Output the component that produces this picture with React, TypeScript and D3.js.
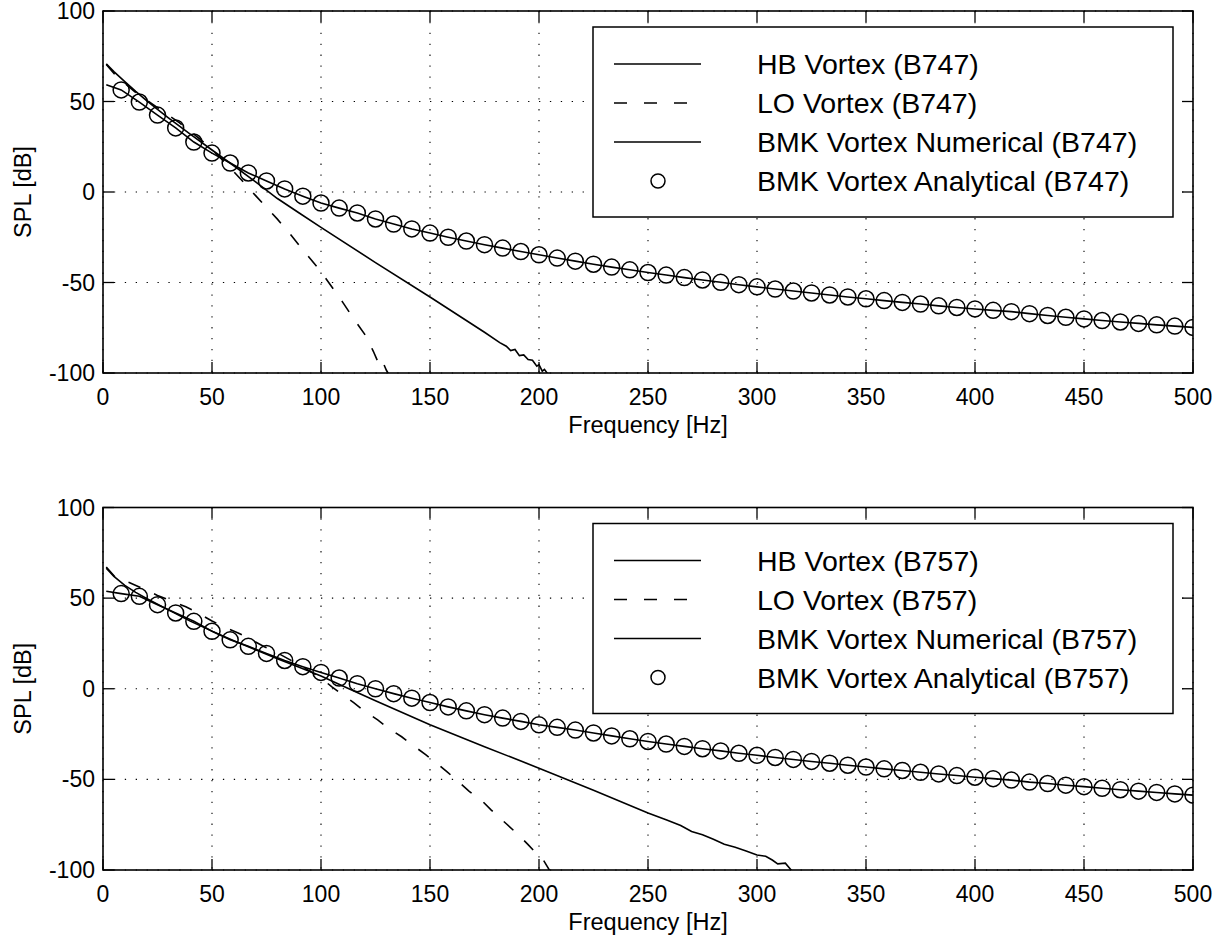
import React from 'react'
import * as d3 from 'd3'

type Pt = [number, number]

const W = 1226
const H = 940
const FONT = '"Liberation Sans", Arial, Helvetica, sans-serif'

const xTicks = [0, 50, 100, 150, 200, 250, 300, 350, 400, 450, 500]
const yTicks = [-100, -50, 0, 50, 100]

// analytical markers sit on an even grid, 60 points up to 500 Hz
const markerFreq = d3.range(1, 61).map(k => (k * 500) / 60)

const legend747 = ['HB Vortex (B747)', 'LO Vortex (B747)', 'BMK Vortex Numerical (B747)', 'BMK Vortex Analytical (B747)']
const legend757 = ['HB Vortex (B757)', 'LO Vortex (B757)', 'BMK Vortex Numerical (B757)', 'BMK Vortex Analytical (B757)']

const analytic747 = [
  56.4, 49.7, 42.5, 35.4, 27.6, 21.5, 16.0, 10.5, 6.1, 1.7,
  -2.3, -6.1, -8.9, -11.6, -14.9, -17.7, -20.4, -22.7, -25.0, -27.1,
  -29.1, -31.0, -32.9, -34.7, -36.5, -38.2, -39.9, -41.5, -43.0, -44.5,
  -45.9, -47.3, -48.6, -49.9, -51.2, -52.4, -53.6, -54.7, -55.8, -56.9,
  -58.0, -59.0, -60.0, -61.0, -61.9, -62.9, -63.8, -64.6, -65.4, -66.1,
  -67.2, -68.2, -69.2, -70.1, -71.0, -71.8, -72.6, -73.4, -74.1, -74.8,
]

const analytic757 = [
  52.5, 51.0, 46.4, 41.8, 37.2, 31.7, 27.0, 23.4, 19.5, 15.6,
  12.2, 9.0, 5.9, 2.8, 0.0, -2.7, -5.2, -7.6, -10.0, -12.2,
  -14.3, -16.2, -18.0, -19.9, -21.3, -22.8, -24.4, -26.0, -27.6, -29.1,
  -30.5, -31.8, -33.1, -34.3, -35.6, -36.7, -37.9, -39.0, -40.1, -41.1,
  -42.2, -43.2, -44.2, -45.1, -46.1, -47.0, -47.9, -48.8, -49.6, -50.4,
  -51.5, -52.3, -53.2, -54.0, -54.9, -55.7, -56.5, -57.2, -58.0, -58.7,
]

// numerical BMK curve: starting value near 0 Hz, then it runs on the analytical markers
const bmkStart747: Pt = [1.5, 59.3]
const bmkStart757: Pt = [1.5, 53.8]

const hb747: Pt[] = [
  [1.5, 70.8], [5, 66.5], [10, 61], [15, 55.6], [20, 50.5], [25, 45.6], [30, 41], [40, 32],
  [50, 23.2], [60, 14.5], [70, 5.6], [80, -3.6], [90, -11.6], [100, -19.5], [125, -39],
  [150, -58], [175, -77.5], [182, -83.2], [185, -85.2], [187, -87.6], [189, -87], [191, -90.4],
  [193, -90], [195, -92.6], [197, -93], [199, -96.2], [200, -95.4], [201.5, -99], [202.5, -98], [204, -100.5],
]

const lo747: Pt[] = [
  [1.5, 70.5], [5.5, 64.8], [11, 59], [15.5, 54.5], [20, 50.8], [25, 46.6], [30, 42.5], [35, 38.3],
  [40, 33.5], [45, 28.7], [50, 23.5], [55, 17.5], [60, 11.2], [65, 4.7], [70, -2], [75, -8.5],
  [80, -15], [85, -22], [90, -29.5], [95, -36.8], [100, -44], [105, -52.5], [110, -61], [115, -70],
  [120, -78.5], [122, -83], [124, -88], [126, -93.5], [127.3, -95.8], [128.2, -93.5], [130, -98.5], [131, -100.5],
]

const hb757: Pt[] = [
  [1.5, 66.5], [5, 62], [10, 57], [15, 53.2], [20, 49.8], [30, 43.5], [40, 37.3], [50, 31.8],
  [60, 26.5], [70, 21.5], [80, 16.5], [90, 11.8], [100, 7], [110, 1.5], [125, -6.6], [150, -19.9],
  [175, -32], [200, -43.8], [225, -56], [250, -68.5], [258.6, -72.4], [265, -75.5], [270, -78.8],
  [275, -80.5], [280, -83], [285, -85.8], [290, -87.5], [295, -89.5], [300, -91.7], [304, -92.4],
  [307, -94.5], [309.5, -96.6], [313, -96.2], [316, -100.5],
]

const lo757: Pt[] = [
  [1.5, 67.2], [6, 61], [12, 58.6], [18, 55.4], [25, 51.5], [31, 48.6], [38, 45.2], [43, 42.2],
  [50, 37.4], [55, 34.4], [62, 30.8], [67, 27.8], [74, 23.2], [80, 19.8], [90, 13.2], [100, 6],
  [105, 1], [110, -3.4], [115, -7.7], [120, -12.4], [126, -17.2], [131, -21.8], [137, -26.5],
  [142, -31], [148, -36.4], [153, -41], [158, -46], [163, -51.2], [168, -56.6], [174, -62],
  [178, -66.8], [185, -74.5], [190, -80], [195, -86], [199, -91.2], [202, -94.5], [205, -100.5],
]

const LEFT = 103
const RIGHT = 1193
const TICK = 11
const DASH = '13,15'

type PanelProps = {
  id: string
  top: number
  bottom: number
  hb: Pt[]
  lo: Pt[]
  bmkStart: Pt
  analytic: number[]
  labels: string[]
}

function Panel({ id, top, bottom, hb, lo, bmkStart, analytic, labels }: PanelProps) {
  const x = d3.scaleLinear().domain([0, 500]).range([LEFT, RIGHT])
  const y = d3.scaleLinear().domain([-100, 100]).range([bottom, top])
  const line = d3.line<Pt>().x(d => x(d[0])).y(d => y(d[1]))
  const markers: Pt[] = markerFreq.map((f, i) => [f, analytic[i]])
  const bmk: Pt[] = [bmkStart, ...markers]

  const legX = 593
  const legY = top + 16
  const rows = [37, 76, 115, 154]

  return (
    <g>
      <defs>
        <clipPath id={id}>
          <rect x={LEFT} y={top} width={RIGHT - LEFT} height={bottom - top} />
        </clipPath>
      </defs>

      {/* dotted grid */}
      <g stroke="#000" strokeWidth={1.1} strokeDasharray="1.3,9.6">
        {xTicks.map(t => (
          <line key={'gx' + t} x1={x(t)} x2={x(t)} y1={top} y2={bottom} />
        ))}
        {yTicks.map(t => (
          <line key={'gy' + t} x1={LEFT} x2={RIGHT} y1={y(t)} y2={y(t)} />
        ))}
      </g>

      <g clipPath={`url(#${id})`} fill="none" stroke="#000" strokeWidth={1.6}>
        <path d={line(hb) || ''} />
        <path d={line(lo) || ''} strokeDasharray={DASH} />
        <path d={line(bmk) || ''} />
        {markers.map((d, i) => (
          <circle key={i} cx={x(d[0])} cy={y(d[1])} r={8} strokeWidth={1.5} />
        ))}
      </g>

      {/* ticks on all four sides, pointing in */}
      <g stroke="#000" strokeWidth={1.3}>
        {xTicks.map(t => (
          <g key={'tx' + t}>
            <line x1={x(t)} x2={x(t)} y1={bottom} y2={bottom - TICK} />
            <line x1={x(t)} x2={x(t)} y1={top} y2={top + TICK} />
          </g>
        ))}
        {yTicks.map(t => (
          <g key={'ty' + t}>
            <line x1={LEFT} x2={LEFT + TICK} y1={y(t)} y2={y(t)} />
            <line x1={RIGHT} x2={RIGHT - TICK} y1={y(t)} y2={y(t)} />
          </g>
        ))}
      </g>
      <rect x={LEFT} y={top} width={RIGHT - LEFT} height={bottom - top} fill="none" stroke="#000" strokeWidth={1.6} />

      <g fontFamily={FONT} fontSize={23} fill="#000">
        {xTicks.map(t => (
          <text key={'lx' + t} x={x(t)} y={bottom + 32} textAnchor="middle">{t}</text>
        ))}
        {yTicks.map(t => (
          <text key={'ly' + t} x={LEFT - 8} y={y(t) + 8} textAnchor="end">{t}</text>
        ))}
        <text x={(LEFT + RIGHT) / 2} y={bottom + 60} textAnchor="middle" fontSize={23.5}>Frequency [Hz]</text>
        <text transform={`translate(31,${(top + bottom) / 2}) rotate(-90)`} textAnchor="middle" fontSize={23.5}>SPL [dB]</text>
      </g>

      {/* legend */}
      <g>
        <rect x={legX} y={legY} width={580} height={190} fill="#fff" stroke="#000" strokeWidth={1.5} />
        <g stroke="#000" strokeWidth={1.5} fill="none">
          <line x1={legX + 21} x2={legX + 108} y1={legY + rows[0]} y2={legY + rows[0]} />
          <line x1={legX + 21} x2={legX + 96} y1={legY + rows[1]} y2={legY + rows[1]} strokeDasharray="13,17" />
          <line x1={legX + 21} x2={legX + 108} y1={legY + rows[2]} y2={legY + rows[2]} />
          <circle cx={legX + 65} cy={legY + rows[3]} r={7} />
        </g>
        <g fontFamily={FONT} fontSize={28.5} fill="#000">
          {labels.map((s, i) => (
            <text key={s} x={legX + 164} y={legY + rows[i] + 10}>{s}</text>
          ))}
        </g>
      </g>
    </g>
  )
}

export default function App() {
  return (
    <div style={{ position: 'absolute', left: 0, top: 0 }}>
      <svg width={W} height={H} style={{ display: 'block', background: '#fff' }}>
        <Panel id="clip747" top={11} bottom={373} hb={hb747} lo={lo747} bmkStart={bmkStart747} analytic={analytic747} labels={legend747} />
        <Panel id="clip757" top={507.5} bottom={870} hb={hb757} lo={lo757} bmkStart={bmkStart757} analytic={analytic757} labels={legend757} />
      </svg>
    </div>
  )
}
